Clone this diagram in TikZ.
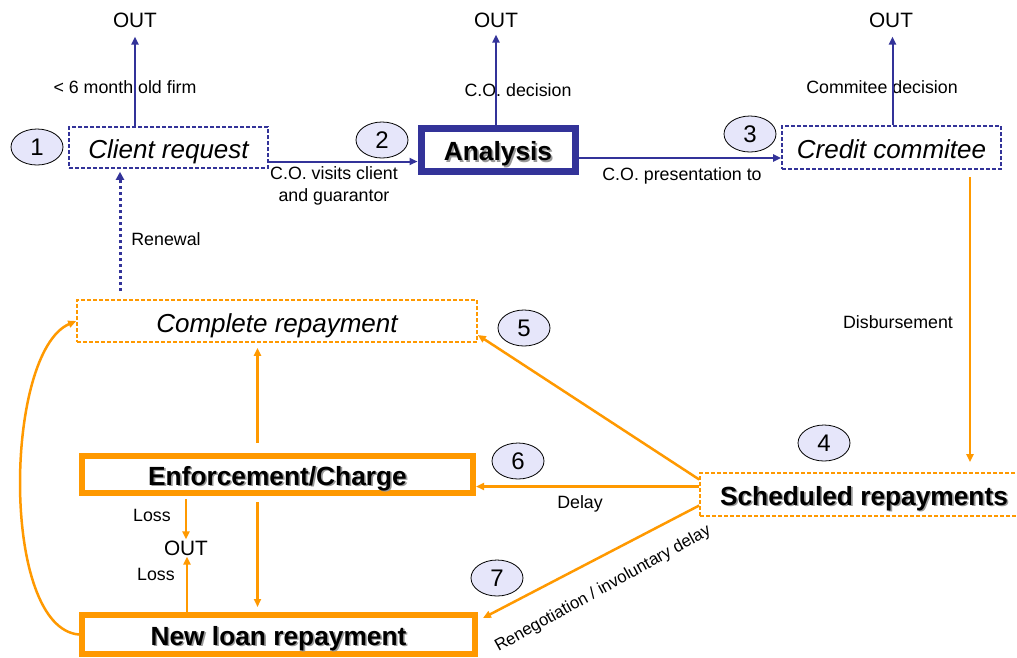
\documentclass[tikz,border=0pt]{standalone}
\usepackage{fontspec}
\setmainfont{Liberation Sans}
\usetikzlibrary{shapes.geometric,arrows.meta,calc}
\definecolor{navy}{RGB}{51,51,153}
\definecolor{orng}{RGB}{255,153,0}
\definecolor{lav}{RGB}{230,230,250}
\newcommand\shtxt[1]{\makebox[0pt][l]{\raisebox{-1.6pt}{\hspace{1.6pt}\textcolor{black!40}{#1}}}#1}
\begin{document}
\begin{tikzpicture}[x=1pt,y=-1pt,
  bigit/.style={font=\fontsize{26}{30}\selectfont\itshape, text height=22.6pt, text depth=0pt},
  bigbf/.style={font=\fontsize{26.3}{30}\selectfont\bfseries, text height=21pt, text depth=0pt},
  small/.style={font=\fontsize{17.8}{22}\selectfont, inner sep=1pt},
  outtxt/.style={font=\fontsize{20.8}{24}\selectfont, inner sep=1pt},
  nbox/.style={draw=navy, line width=1.6pt, dash pattern=on 4pt off 2pt, fill=white, inner sep=0pt},
  obox/.style={draw=orng, line width=1.6pt, dash pattern=on 4pt off 2pt, fill=white, inner sep=0pt},
  nthick/.style={draw=navy, line width=7pt, fill=white, inner sep=0pt},
  othick/.style={draw=orng, line width=6pt, fill=white, inner sep=0pt},
  num/.style={ellipse, draw=black, line width=0.8pt, fill=lav, minimum width=52pt, minimum height=36pt, inner sep=0pt, font=\fontsize{24}{27}\selectfont},
  narr/.style={draw=navy, line width=2pt, -{Triangle[length=8pt,width=7pt]}},
  oarr/.style={draw=orng, line width=2.5pt, -{Triangle[length=8pt,width=7pt]}}
]
\useasboundingbox[fill=white] (0,0) rectangle (1017,657);

% boxes
\node[nbox, bigit, minimum width=199pt, minimum height=41pt] (client) at (168.5,147.5) {Client request};
\node[nthick, bigbf, minimum width=154pt, minimum height=43pt] (analysis) at (498,150) {\shtxt{Analysis}};
\node[nbox, bigit, minimum width=219pt, minimum height=43pt] (credit) at (891.5,147.5) {Credit commitee};
\node[obox, bigit, minimum width=400pt, minimum height=42pt] (complete) at (277,321) {Complete repayment};
\node[othick, bigbf, minimum width=391pt, minimum height=37pt] (enf) at (277.5,474.5) {\shtxt{Enforcement/Charge}};
\node[othick, bigbf, minimum width=393pt, minimum height=39pt] (newloan) at (278.5,634.5) {\shtxt{New loan repayment}};
\node[obox, bigbf, minimum width=328pt, minimum height=43pt] (sched) at (864,494.5) {\shtxt{Scheduled repayments}};

% numbers
\node[num] (n1) at (37,147) {1};
\node[num] (n2) at (382,140) {2};
\node[num] (n3) at (750,134) {3};
\node[num] (n4) at (824,443) {4};
\node[num] (n5) at (524,328) {5};
\node[num] (n6) at (518,461) {6};
\node[num] (n7) at (497,578) {7};

% OUT nodes
\node[outtxt] (out1) at (135,20) {OUT};
\node[outtxt] (out2) at (496,20) {OUT};
\node[outtxt] (out3) at (891,20) {OUT};
\node[outtxt] (out4) at (186,548) {OUT};

% labels
\node[small] (l1) at (125,87) {< 6 month old firm};
\node[small] (l2) at (518,90) {C.O. decision};
\node[small] (l3) at (882,87) {Commitee decision};
\node[small, align=center] (l4) at (334,186) {C.O. visits client\\and guarantor};
\node[small] (l5) at (682,176) {C.O. presentation to};
\node[small] (l6) at (166,239) {Renewal};
\node[small] (l7) at (898,322) {Disbursement};
\node[small] (l8) at (580,504) {Delay};
\node[small] (l9) at (152,515) {Loss};
\node[small] (l10) at (156,574) {Loss};
\node[font=\fontsize{16.8}{20}\selectfont, inner sep=1pt, rotate=29] (l11) at (603,589) {Renegotiation / involuntary delay};

% navy connectors
\draw[narr] (out1.south |- client.north) -- ([yshift=-8pt]out1.south);
\draw[narr] (out2.south |- analysis.north) -- ([yshift=-6pt]out2.south);
\draw[narr] ([xshift=1.5pt]out3.south |- credit.north) -- ([shift={(1.5pt,-8pt)}]out3.south);
\draw[narr] ([yshift=-14pt]client.east) -- ([yshift=-14pt]client.east -| analysis.west);
\draw[narr] ([yshift=-8pt]analysis.east) -- ([yshift=-8pt]analysis.east -| credit.west);
\coordinate (rn) at ([xshift=-48.5pt]client.south);
\draw[navy, line width=3pt, dash pattern=on 3pt off 3pt, -{Triangle[length=8pt,width=8pt]}, shorten <=8pt, shorten >=3pt] (rn |- complete.north) -- (rn);

% orange connectors
\coordinate (ds) at ([xshift=78.5pt]credit.south);
\draw[oarr, shorten <=7pt, shorten >=10pt] (ds) -- (ds |- sched.north);
\draw[oarr] ([yshift=15pt]sched.west) -- ([yshift=-14pt]complete.east);
\draw[oarr] ([yshift=8pt]sched.west) -- ([yshift=-12pt]enf.east);
\draw[oarr] ([yshift=-11pt]sched.west) -- ([shift={(5pt,-6pt)}]newloan.north east);
\coordinate (vx) at ([xshift=-20pt]enf.north);
\draw[oarr, shorten <=10pt, shorten >=5pt] (vx) -- (vx |- complete.south);
\coordinate (vy) at ([xshift=-20pt]enf.south);
\draw[oarr, shorten <=6pt, shorten >=5pt] (vy) -- (vy |- newloan.north);
\draw[oarr, shorten <=3pt] (out4.north |- enf.south) -- (out4.north);
\draw[oarr] ([xshift=1pt]out4.south |- newloan.north) -- ([xshift=1pt]out4.south);
\draw[oarr] (newloan.west) .. controls (0,628) and (4,352) .. (complete.west);
\end{tikzpicture}
\end{document}
